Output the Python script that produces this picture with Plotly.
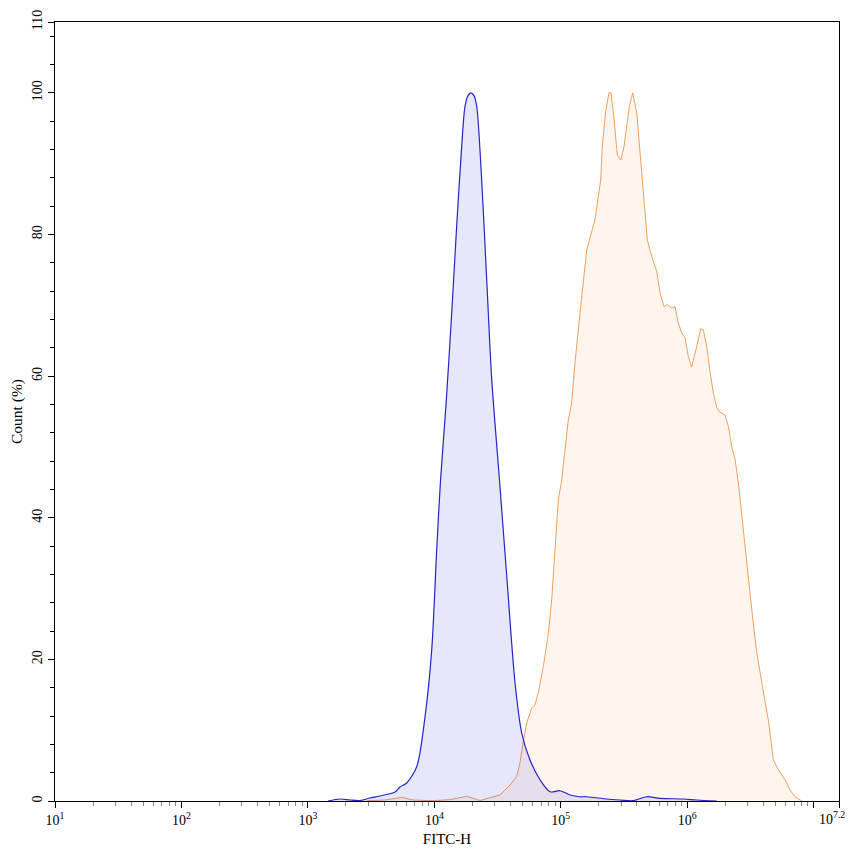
import plotly.graph_objects as go

# ---- data ----
blue_x = [1442, 1795, 2153, 2582, 3097, 3715, 4886, 5350, 6040, 7256, 8440, 9530,
          10440, 11190, 12360, 13720, 15030, 16450, 17470, 18460, 19490, 20580,
          21620, 23670, 25940, 28430, 32740, 37560, 43440, 49080, 57060, 68490,
          82190, 98600, 118300, 142000, 160300, 230700, 293900, 372000, 477500,
          608300, 925000, 1188000, 1711000]
blue_y = [0.0, 0.28, 0.14, 0.07, 0.42, 0.71, 1.27, 1.98, 2.54, 4.84, 11.9, 21.3,
          35.5, 45.3, 55.9, 68.9, 81.3, 92.4, 98.1, 99.6, 100.0, 99.6,
          98.1, 87.7, 73.6, 59.5, 45.3, 31.2, 16.7, 9.6, 5.8, 3.0,
          1.3, 1.45, 0.85, 0.6, 0.6, 0.28, 0.14, 0.04, 0.6,
          0.38, 0.28, 0.14, 0.0]

orange_x = [2917, 4074, 5520, 6776, 9750, 13290, 18030, 22980, 33050, 39630, 44770,
            47550, 50210, 53720, 58870, 62520, 66390, 72760, 79690, 84760, 89980,
            95560, 101600, 114600, 121900, 129500, 141900, 150700, 160300, 186400,
            198000, 206900, 212800, 226400, 240500, 249500, 263600, 279900, 297700,
            316300, 348500, 370400, 398500, 423000, 454600, 483300, 523400, 573100,
            609100, 655100, 695600, 753700, 800000, 849700, 903700, 960000, 1019000,
            1084000, 1188000, 1279000, 1341000, 1426000, 1515000, 1609000, 1711000,
            1817000, 1990000, 2115000, 2250000, 2390000, 2537000, 2700000, 2958000,
            3238000, 3543000, 3884000, 4378000, 4797000, 5252000, 5934000, 6497000,
            7115000, 8040000]
orange_y = [0.04, 0.14, 0.52, 0.14, 0.04, 0.2, 0.66, 0.07, 0.85, 2.26, 3.43,
            5.37, 8.19, 11.0, 13.1, 13.6, 15.3, 19.0, 23.7, 28.4, 35.5,
            42.5, 45.3, 53.8, 56.2, 61.9, 68.9, 73.6, 77.8, 82.1,
            85.4, 87.7, 92.4, 97.4, 100.0, 100.0, 96.2, 91.2, 90.5,
            92.4, 98.1, 100.0, 97.2, 91.5, 85.4, 79.2, 76.9, 74.8,
            71.8, 69.8, 70.1, 69.6, 69.8, 67.5, 66.1, 65.4, 62.8,
            61.3, 64.2, 66.7, 66.5, 64.2, 60.5, 57.6, 55.5,
            54.9, 54.5, 52.9, 50.0, 48.2, 44.9, 40.2, 34.0,
            27.0, 20.9, 16.7, 11.4, 5.8, 4.4, 3.0, 1.55,
            0.6, 0.0]

x_tick_exponents = [1, 2, 3, 4, 5, 6, 7, 7.2]
x_tick_labels = ["10<sup>1</sup>", "10<sup>2</sup>", "10<sup>3</sup>", "10<sup>4</sup>",
                 "10<sup>5</sup>", "10<sup>6</sup>", "", ""]
x_end_label = "10<sup>7.2</sup>"
y_tick_vals = [0, 20, 40, 60, 80, 100, 110]

x_major = [10 ** e for e in x_tick_exponents]
x_minor = [m * 10 ** d for d in range(1, 7) for m in range(2, 10)]

FONT = "Liberation Serif, Times New Roman, serif"

fig = go.Figure()
fig.add_trace(go.Scatter(
    x=orange_x, y=orange_y, mode="lines", fill="tozeroy",
    line=dict(color="#f0a060", width=1),
    fillcolor="rgba(245,175,110,0.13)", showlegend=False, hoverinfo="skip"))
fig.add_trace(go.Scatter(
    x=blue_x, y=blue_y, mode="lines", fill="tozeroy",
    line=dict(color="#2424c8", width=1.2, shape="spline", smoothing=0.8),
    fillcolor="rgba(40,40,230,0.11)", showlegend=False, hoverinfo="skip"))

# label of the last (fractional) decade tick, placed at the right end of the axis
fig.add_annotation(
    text=x_end_label, xref="paper", yref="paper", x=1, y=0,
    xanchor="right", yanchor="top", xshift=8, yshift=-6,
    showarrow=False, font=dict(family=FONT, size=14, color="black"))

# page body has an 8px default margin, so the figure is sized to fit the window
fig.update_layout(
    width=845, height=848,
    margin=dict(l=47, r=14, t=14, b=55),
    paper_bgcolor="white", plot_bgcolor="white",
    font=dict(family=FONT, size=14, color="black"),
    xaxis=dict(
        type="log", range=[1, 7.2], automargin=False,
        tickmode="array", tickvals=x_major, ticktext=x_tick_labels,
        ticklabeloverflow="allow",
        ticks="outside", ticklen=6, tickcolor="black", tickwidth=1,
        showline=True, linecolor="black", linewidth=1, mirror=True,
        showgrid=False, zeroline=False,
        tickfont=dict(family=FONT, size=14),
        minor=dict(tickmode="array", tickvals=x_minor, ticks="outside",
                   ticklen=4, tickcolor="#888888", tickwidth=1, showgrid=False),
        title=dict(text="FITC-H", font=dict(family=FONT, size=15), standoff=6),
    ),
    yaxis=dict(
        range=[0, 110], automargin=False,
        tickmode="array", tickvals=y_tick_vals,
        ticklabeloverflow="allow",
        ticks="outside", ticklen=6, tickcolor="black", tickwidth=1,
        tickangle=-90,
        showline=True, linecolor="black", linewidth=1, mirror=True,
        showgrid=False, zeroline=False,
        tickfont=dict(family=FONT, size=14),
        minor=dict(dtick=4, tick0=0, ticks="outside", ticklen=4,
                   tickcolor="black", tickwidth=1, showgrid=False),
        title=dict(text="Count (%)", font=dict(family=FONT, size=15.5), standoff=10),
    ),
)

fig.write_html("out.html")
